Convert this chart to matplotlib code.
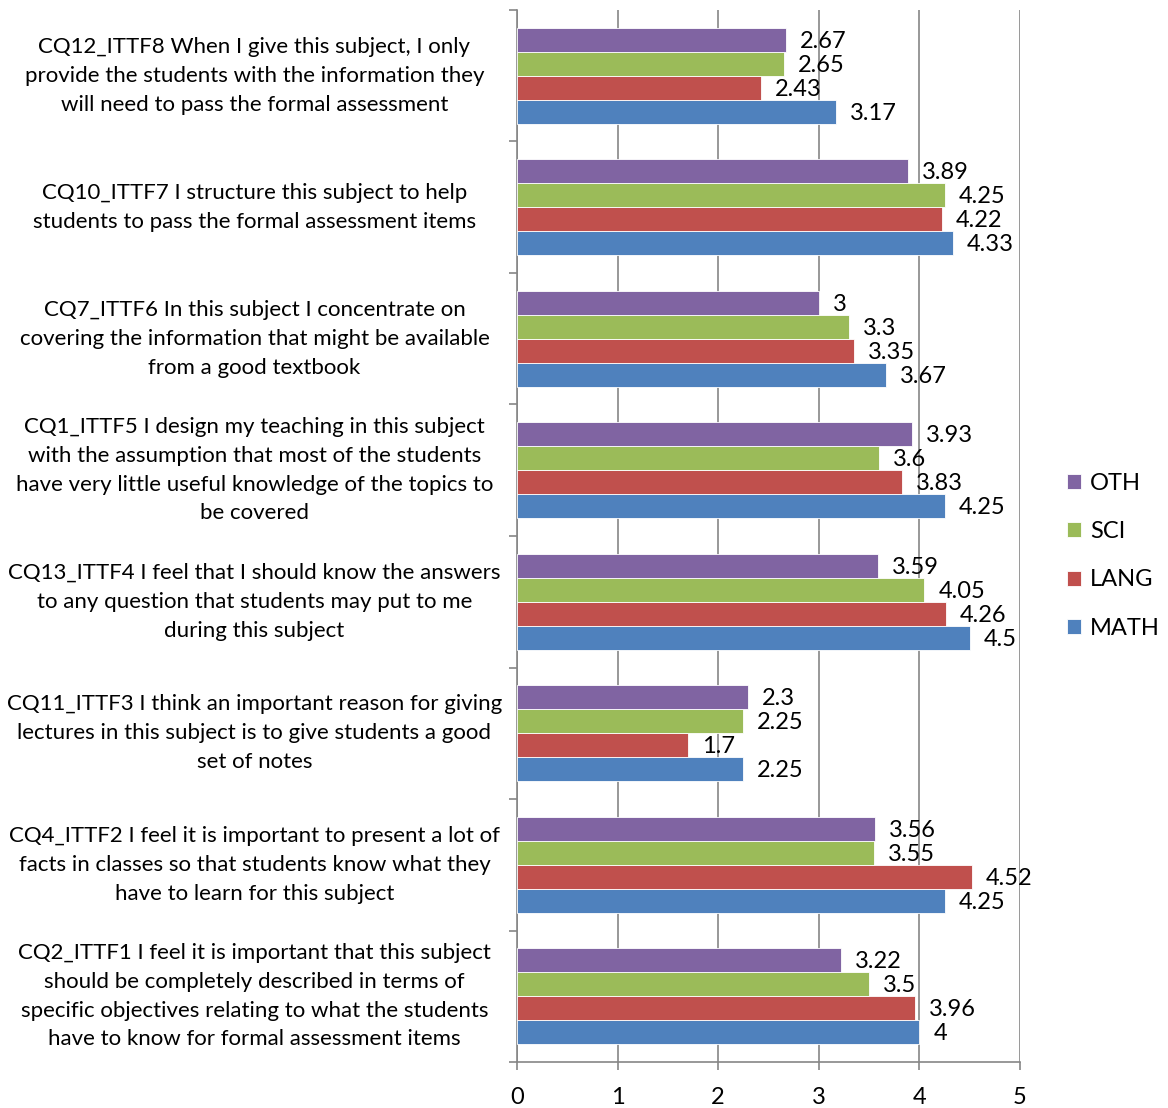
import numpy as np
import matplotlib
matplotlib.use("Agg")
import matplotlib.pyplot as plt

plt.rcParams['font.family'] = ['Lato', 'DejaVu Sans']

# bottom to top, as the axis draws them
categories = [
    "CQ2_ITTF1 I feel it is important that this subject\nshould be completely described in terms of\nspecific objectives relating to what the students\nhave to know for formal assessment items",
    "CQ4_ITTF2 I feel it is important to present a lot of\nfacts in classes so that students know what they\nhave to learn for this subject",
    "CQ11_ITTF3 I think an important reason for giving\nlectures in this subject is to give students a good\nset of notes",
    "CQ13_ITTF4 I feel that I should know the answers\nto any question that students may put to me\nduring this subject",
    "CQ1_ITTF5 I design my teaching in this subject\nwith the assumption that most of the students\nhave very little useful knowledge of the topics to\nbe covered",
    "CQ7_ITTF6 In this subject I concentrate on\ncovering the information that might be available\nfrom a good textbook",
    "CQ10_ITTF7 I structure this subject to help\nstudents to pass the formal assessment items",
    "CQ12_ITTF8 When I give this subject, I only\nprovide the students with the information they\nwill need to pass the formal assessment",
]

math_vals = [4, 4.25, 2.25, 4.5, 4.25, 3.67, 4.33, 3.17]
lang_vals = [3.96, 4.52, 1.7, 4.26, 3.83, 3.35, 4.22, 2.43]
sci_vals = [3.5, 3.55, 2.25, 4.05, 3.6, 3.3, 4.25, 2.65]
oth_vals = [3.22, 3.56, 2.3, 3.59, 3.93, 3, 3.89, 2.67]

series = [
    ("MATH", math_vals, "#4F81BD"),
    ("LANG", lang_vals, "#C0504D"),
    ("SCI", sci_vals, "#9BBB59"),
    ("OTH", oth_vals, "#8064A2"),
]

FS = 17

fig = plt.figure(figsize=(11.68, 11.08), dpi=100)
ax = fig.add_axes([0.4426, 0.0415, 0.4307, 0.9495])

y = np.arange(len(categories))
h = 0.183
handles = []
for i, (name, vals, col) in enumerate(series):
    pos = y + (i - 1.5) * h
    bars = ax.barh(pos, vals, height=h, color=col, edgecolor="white",
                   linewidth=0.6, label=name, zorder=3)
    handles.append(bars)
    for p, v in zip(pos, vals):
        ax.annotate(f"{v:g}", (v, p), xytext=(10, -1), textcoords="offset points",
                    ha="left", va="center", fontsize=FS, zorder=4)

ax.set_xlim(0, 5)
ax.set_ylim(-0.5, len(categories) - 0.5)
ax.set_xticks(range(6))
ax.set_yticks(np.arange(len(categories) + 1) - 0.5, minor=False)
ax.set_yticklabels([])
ax.set_yticks(y, minor=True)
ax.set_yticklabels(categories, minor=True, fontsize=16, ha="center",
                   va="center", linespacing=1.55)
ax.tick_params(axis="y", which="minor", length=0, pad=189)
ax.tick_params(axis="y", which="major", length=6, color="#868686", width=1.2)
ax.tick_params(axis="x", length=6, color="#868686", width=1.2, labelsize=FS, pad=12)

ax.grid(axis="x", color="#868686", linewidth=1.2, zorder=0)
for s in ("top", "right"):
    ax.spines[s].set_visible(False)
for s in ("left", "bottom"):
    ax.spines[s].set_color("#868686")
    ax.spines[s].set_linewidth(1.2)

leg = fig.legend(handles[::-1], [s[0] for s in series][::-1], loc="center left",
                 bbox_to_anchor=(0.895, 0.4983), frameon=False, fontsize=FS,
                 handlelength=0.6, handleheight=0.6, handletextpad=0.4,
                 labelspacing=1.15)

fig.savefig("out.png", dpi=100)
